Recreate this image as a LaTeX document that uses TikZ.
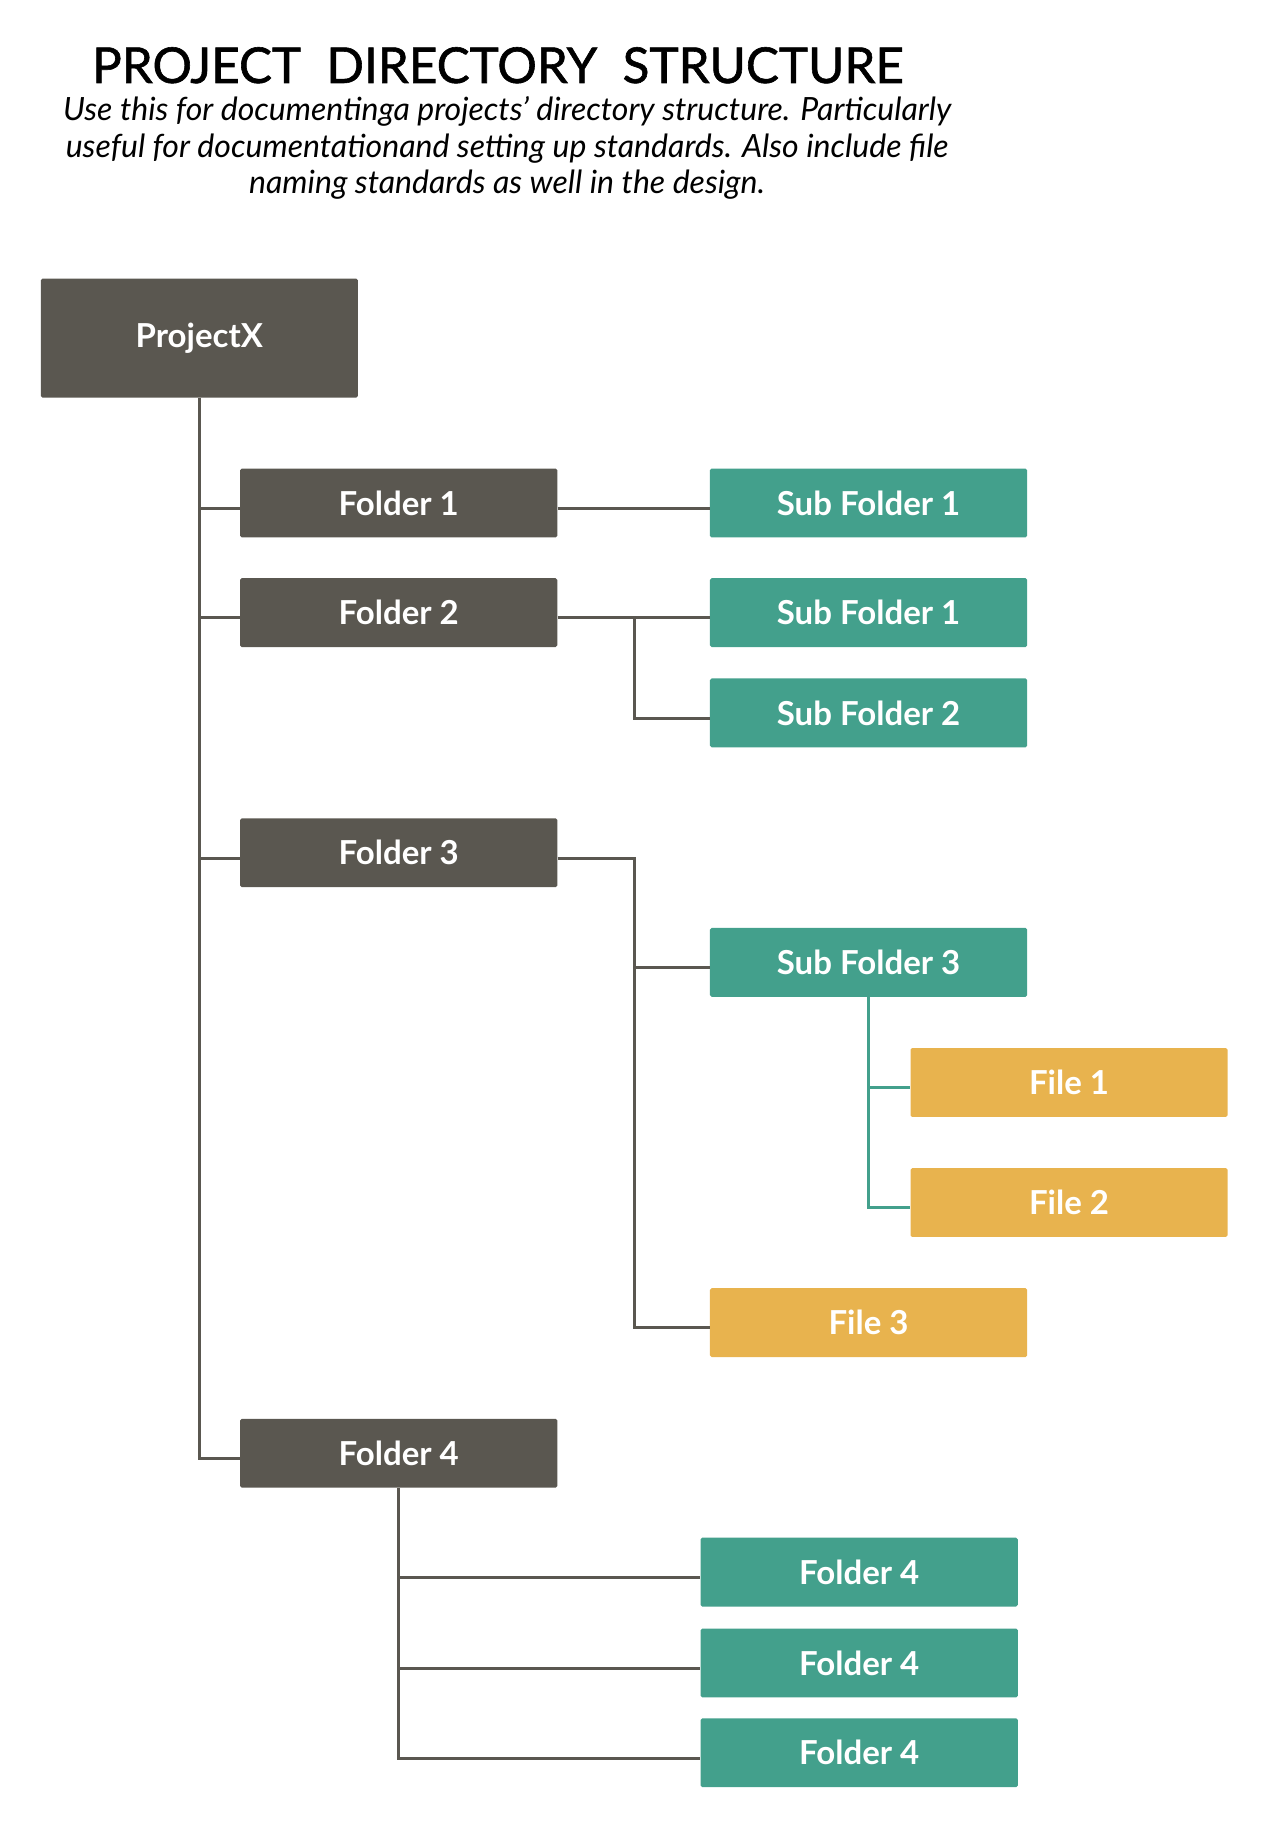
\documentclass[tikz,border=0pt]{standalone}
\usepackage{fontspec}
\setmainfont{Lato}
\usepackage{tikz}
\usetikzlibrary{positioning,calc}

\definecolor{dirgray}{HTML}{5A5750}
\definecolor{dirteal}{HTML}{43A08C}
\definecolor{dirgold}{HTML}{E8B34E}

\tikzset{
  dirbox/.style={fill=#1, text=white, rounded corners=0.8pt, inner sep=0pt,
    minimum width=158.5pt, minimum height=34.4pt,
    font=\bfseries\fontsize{16.5}{19}\selectfont},
  folderbox/.style={dirbox=dirgray},
  subbox/.style={dirbox=dirteal},
  filebox/.style={dirbox=dirgold},
  link/.style={draw=dirgray, line width=1.5pt},
  sublink/.style={draw=dirteal, line width=1.5pt},
}

\begin{document}
\begin{tikzpicture}[x=0.5827pt,y=-0.5827pt]
  \useasboundingbox (0,0) rectangle (1088,1568); % 全体の大きさ
  \node[font=\fontsize{24.7}{28}\selectfont\addfontfeature{FakeBold=1.2}] (title) at (427,56) {PROJECT\ \ DIRECTORY\ \ STRUCTURE}; % 表題
  \node[font=\itshape\fontsize{16}{18.4}\selectfont, align=center] (subtitle) at (435,127) {Use this for documentinga projects' directory structure. Particularly\\useful for documentationand setting up standards. Also include file\\naming standards as well in the design.}; % 説明文
  \node[folderbox, minimum height=59.4pt] (root) at (171,290) {ProjectX}; % 最上位のフォルダ
  \node[folderbox] (f1) at (342,431.5) {Folder 1}; % 第1フォルダ
  \node[folderbox] (f2) at (342,525.5) {Folder 2}; % 第2フォルダ
  \node[folderbox] (f3) at (342,731.5) {Folder 3}; % 第3フォルダ
  \node[folderbox] (f4) at (342,1246.5) {Folder 4}; % 第4フォルダ
  \node[subbox] (sf1a) at (745,431.5) {Sub Folder 1}; % Folder 1 の下
  \node[subbox] (sf1b) at (745,525.5) {Sub Folder 1}; % Folder 2 の下
  \node[subbox] (sf2) at (745,611.5) {Sub Folder 2}; % Folder 2 の下
  \node[subbox] (sf3) at (745,825.5) {Sub Folder 3}; % Folder 3 の下
  \node[filebox] (file1) at (917,928.5) {File 1}; % Sub Folder 3 の中のファイル
  \node[filebox] (file2) at (917,1031.5) {File 2}; % Sub Folder 3 の中のファイル
  \node[filebox] (file3) at (745,1134.5) {File 3}; % Folder 3 の中のファイル
  \node[subbox] (f4a) at (737,1348.5) {Folder 4}; % Folder 4 の下
  \node[subbox] (f4b) at (737,1426.5) {Folder 4}; % Folder 4 の下
  \node[subbox] (f4c) at (737,1503.5) {Folder 4}; % Folder 4 の下
  \coordinate (f2br) at (544,530); % Folder 2 の分岐点
  \coordinate (f3br) at (544,1139); % Folder 3 の分岐の下端
  \draw[link] (root.south) |- ($(f1.west)+(0,4.5)$); % 幹から Folder 1
  \draw[link] (root.south) |- ($(f2.west)+(0,4.5)$); % 幹から Folder 2
  \draw[link] (root.south) |- ($(f3.west)+(0,4.5)$); % 幹から Folder 3
  \draw[link] (root.south) |- ($(f4.west)+(0,4.5)$); % 幹から Folder 4
  \draw[link] ($(f1.east)+(0,4.5)$) -- ($(sf1a.west)+(0,4.5)$); % Folder 1 の枝
  \draw[link] ($(f2.east)+(0,4.5)$) -- ($(sf1b.west)+(0,4.5)$); % Folder 2 の枝
  \draw[link] (f2br) |- ($(sf2.west)+(0,4.5)$); % Folder 2 の枝
  \draw[link] ($(f3.east)+(0,4.5)$) -| (f3br) -- ($(file3.west)+(0,4.5)$); % Folder 3 の枝
  \draw[link] (f3br) |- ($(sf3.west)+(0,4.5)$); % Folder 3 の枝
  \draw[sublink] (sf3.south) |- ($(file1.west)+(0,4.5)$); % Sub Folder 3 の枝
  \draw[sublink] (sf3.south) |- ($(file2.west)+(0,4.5)$); % Sub Folder 3 の枝
  \draw[link] (f4.south) |- ($(f4a.west)+(0,4.5)$); % Folder 4 の枝
  \draw[link] (f4.south) |- ($(f4b.west)+(0,4.5)$); % Folder 4 の枝
  \draw[link] (f4.south) |- ($(f4c.west)+(0,4.5)$); % Folder 4 の枝
\end{tikzpicture}
\end{document}
